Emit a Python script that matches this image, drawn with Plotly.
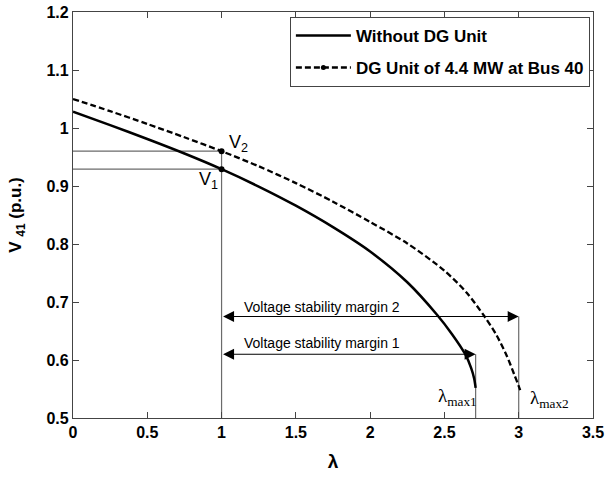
import plotly.graph_objects as go

# Curve data
lam_without = [0, 0.25, 0.5, 0.75, 1.0, 1.25, 1.5, 1.75, 2.0, 2.25, 2.45, 2.55, 2.64, 2.68, 2.70, 2.71]
v_without = [1.028, 1.005, 0.981, 0.956, 0.929, 0.899, 0.866, 0.829, 0.787, 0.734, 0.678, 0.645,
             0.610, 0.586, 0.568, 0.552]

lam_dg = [0, 0.25, 0.5, 0.75, 1.0, 1.25, 1.5, 1.75, 2.0, 2.25, 2.5, 2.65, 2.77, 2.85, 2.92, 2.97, 3.0, 3.01]
v_dg = [1.050, 1.029, 1.007, 0.984, 0.960, 0.934, 0.905, 0.873, 0.838, 0.801, 0.754, 0.716, 0.675,
        0.643, 0.607, 0.575, 0.555, 0.548]

# Operating point and margins
lam_op = 1.0
V1 = 0.929
V2 = 0.960
lam_max1 = 2.71
lam_max2 = 3.0
margin1_level = 0.610
margin2_level = 0.675

x_ticks = [0, 0.5, 1, 1.5, 2, 2.5, 3, 3.5]
y_ticks = [0.5, 0.6, 0.7, 0.8, 0.9, 1.0, 1.1, 1.2]

guide = dict(color="#6b6b6b", width=1.2)

fig = go.Figure()

# guide lines
fig.add_trace(go.Scatter(x=[0, lam_op, lam_op], y=[V2, V2, 0.5], mode="lines",
                         line=guide, showlegend=False, hoverinfo="skip"))
fig.add_trace(go.Scatter(x=[0, lam_op], y=[V1, V1], mode="lines",
                         line=guide, showlegend=False, hoverinfo="skip"))
fig.add_trace(go.Scatter(x=[lam_max1, lam_max1], y=[0.5, margin1_level], mode="lines",
                         line=guide, showlegend=False, hoverinfo="skip"))
fig.add_trace(go.Scatter(x=[lam_max2, lam_max2], y=[0.5, margin2_level], mode="lines",
                         line=guide, showlegend=False, hoverinfo="skip"))

# curves
fig.add_trace(go.Scatter(x=lam_without, y=v_without, mode="lines", name="Without DG Unit",
                         line=dict(color="black", width=2.5, shape="spline", smoothing=0.8),
                         legendgroup="a"))
fig.add_trace(go.Scatter(x=lam_dg, y=v_dg, mode="lines", showlegend=False,
                         line=dict(color="black", width=2.3, dash="6px,3px", shape="spline", smoothing=0.8)))
fig.add_trace(go.Scatter(x=[None], y=[None], mode="lines+markers", name="DG Unit of 4.4 MW at Bus 40",
                         line=dict(color="black", width=2.3, dash="6px,3px"),
                         marker=dict(color="black", size=5), legendgroup="b"))

# operating points
fig.add_trace(go.Scatter(x=[lam_op, lam_op], y=[V1, V2], mode="markers",
                         marker=dict(color="black", size=6), showlegend=False, hoverinfo="skip"))

annotations = []
# arrows (double headed)
for lvl, lm in [(margin1_level, lam_max1), (margin2_level, lam_max2)]:
    annotations.append(dict(x=lm, y=lvl, ax=lam_op, ay=lvl, xref="x", yref="y", axref="x", ayref="y",
                            showarrow=True, arrowhead=2, startarrowhead=2, arrowside="end+start",
                            arrowsize=2.0, startarrowsize=2.0, arrowwidth=1.1, arrowcolor="black", text=""))

lab_font = dict(family="Liberation Sans, Arial", size=14, color="black")
annotations += [
    dict(x=1.675, y=0.692, text="Voltage stability margin 2", showarrow=False, font=lab_font),
    dict(x=1.675, y=0.629, text="Voltage stability margin 1", showarrow=False, font=lab_font),
    dict(x=1.115, y=0.974, text="V<sub>2</sub>", showarrow=False,
         font=dict(family="Liberation Sans, Arial", size=18, color="black")),
    dict(x=0.91, y=0.909, text="V<sub>1</sub>", showarrow=False,
         font=dict(family="Liberation Sans, Arial", size=18, color="black")),
    dict(x=2.585, y=0.537, text="λ<sub>max1</sub>", showarrow=False,
         font=dict(family="Liberation Serif, Times New Roman", size=19, color="black")),
    dict(x=3.205, y=0.533, text="λ<sub>max2</sub>", showarrow=False,
         font=dict(family="Liberation Serif, Times New Roman", size=19, color="black")),
]

axis_common = dict(showline=True, linecolor="#444", linewidth=1.2, mirror="ticks",
                   ticks="inside", ticklen=6, tickcolor="#444", showgrid=False, zeroline=False,
                   automargin=False,
                   tickfont=dict(family="Liberation Sans, Arial", size=16, color="black", weight="bold"))

fig.update_layout(
    width=605, height=477,
    margin=dict(l=73, r=12, t=12, b=59),
    paper_bgcolor="white", plot_bgcolor="white",
    xaxis=dict(range=[0, 3.5], tickvals=x_ticks, ticktext=[f"{v:g}" for v in x_ticks],
               title=dict(text="λ", standoff=14,
                          font=dict(family="Liberation Sans, Arial", size=19, color="black", weight="bold")),
               **axis_common),
    yaxis=dict(range=[0.5, 1.2], tickvals=y_ticks, ticktext=[f"{v:g}" for v in y_ticks],
               title=dict(text="V <sub>41</sub> (p.u.)", standoff=20,
                          font=dict(family="Liberation Sans, Arial", size=17, color="black", weight="bold")),
               **axis_common),
    legend=dict(x=0.994, y=0.988, xanchor="right", yanchor="top", bordercolor="#444", borderwidth=1,
                bgcolor="white", traceorder="grouped", tracegroupgap=7, itemwidth=55,
                font=dict(family="Liberation Sans, Arial", size=17, color="black", weight="bold")),
    annotations=annotations,
    showlegend=True,
)

fig.write_html("out.html")
